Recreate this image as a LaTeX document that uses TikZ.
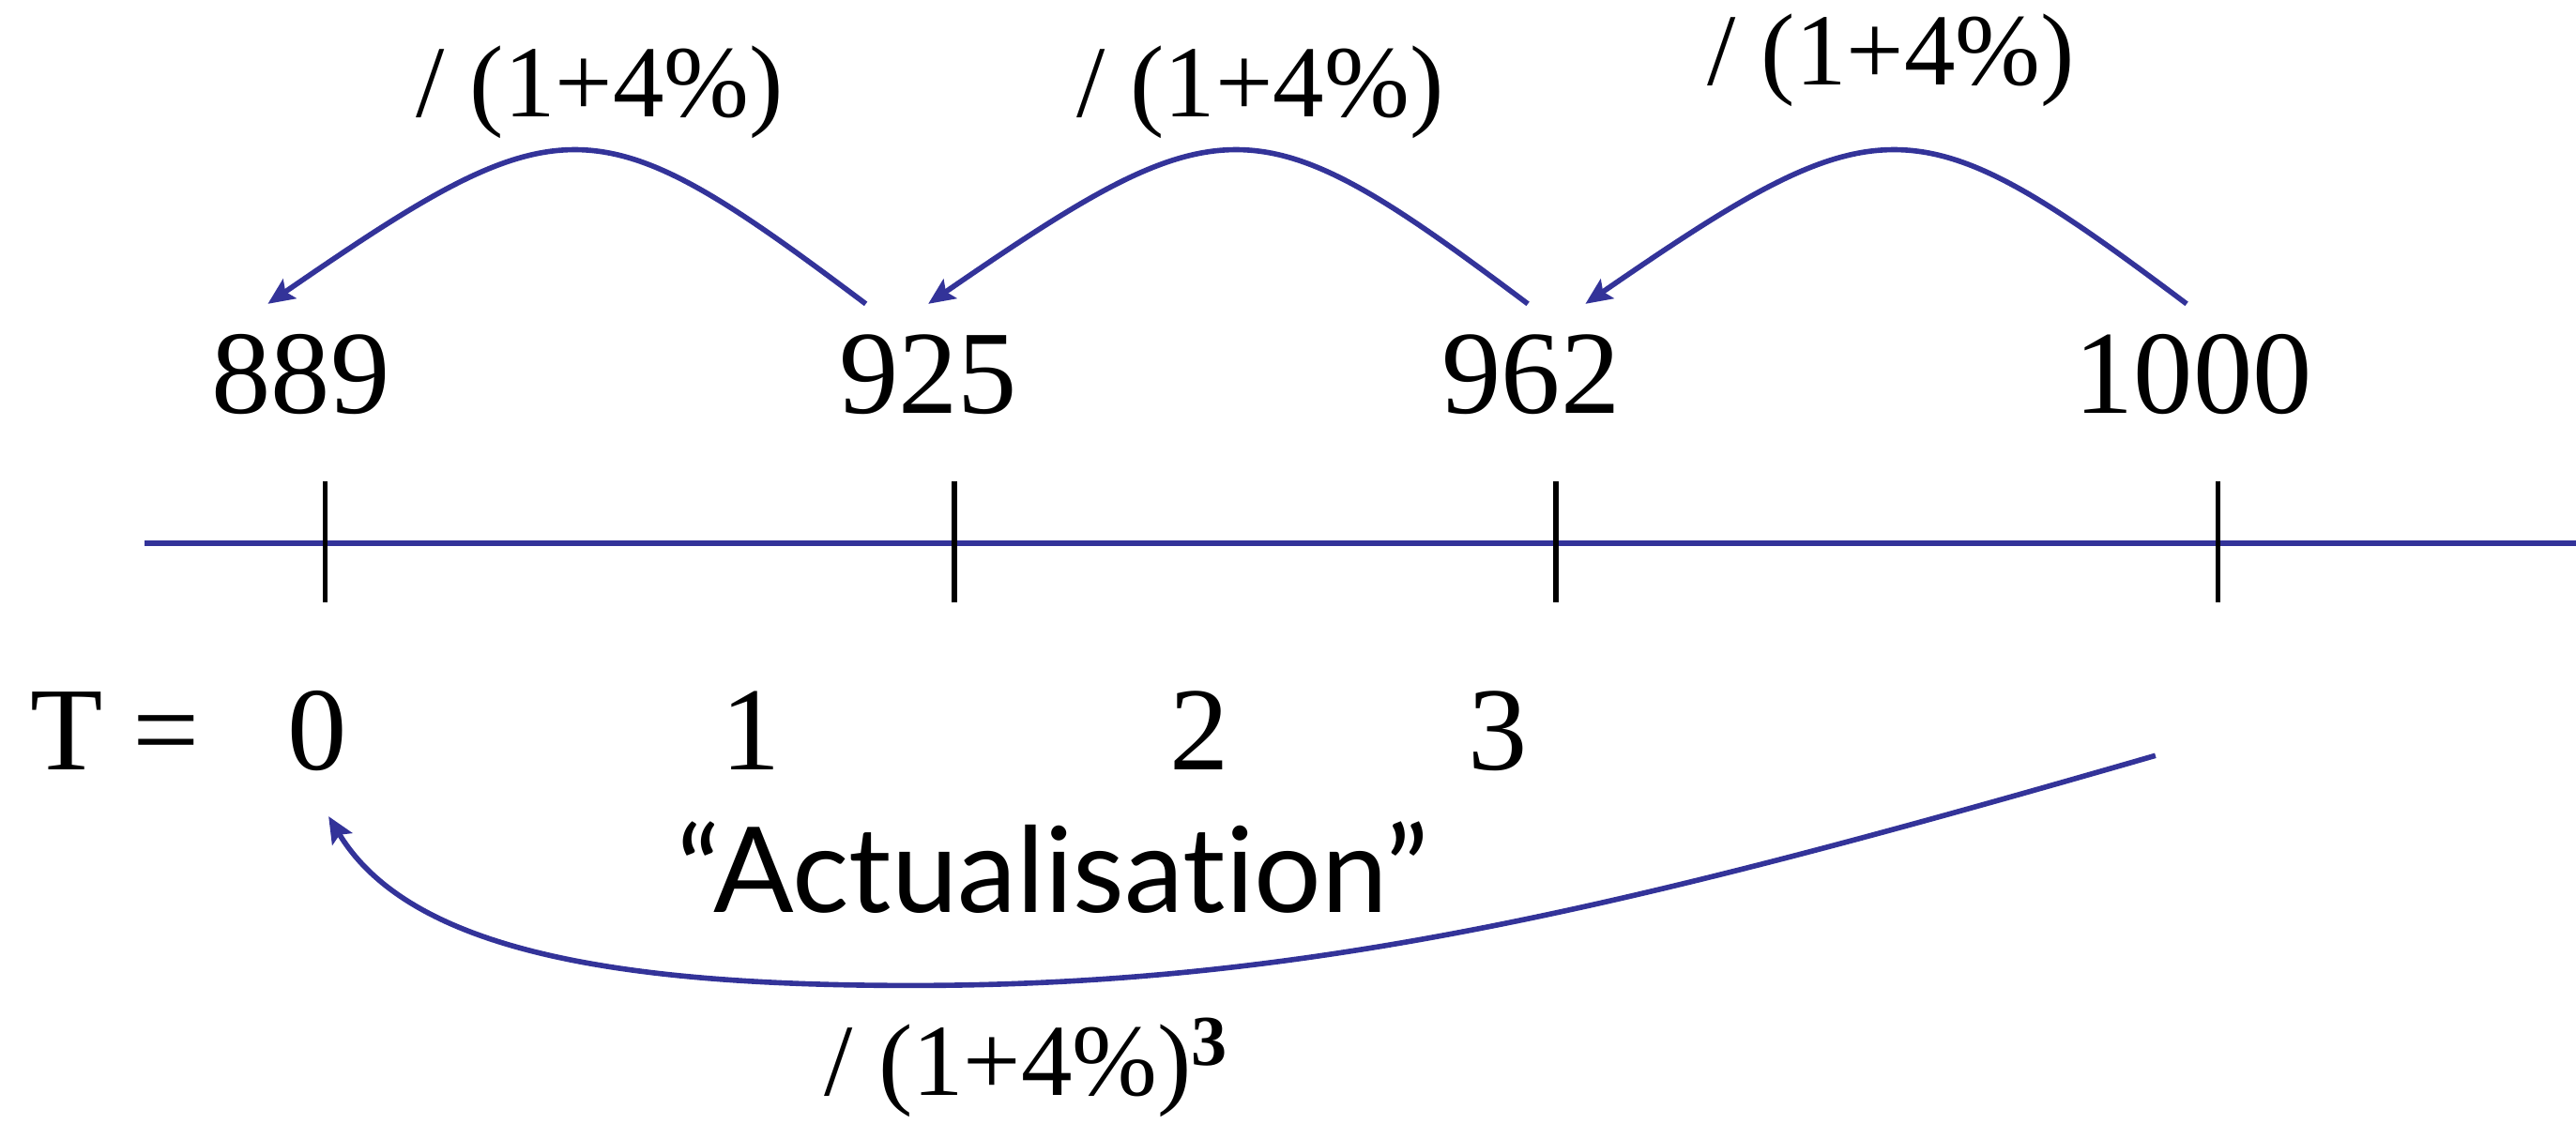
\documentclass[tikz,border=0pt]{standalone}
\usepackage{fontspec}
\setmainfont{Liberation Serif}
\newfontfamily\actfont[Ligatures=NoCommon]{Lato}
\usetikzlibrary{arrows.meta}
\definecolor{lineblue}{RGB}{51,51,153}

\begin{document}
\begin{tikzpicture}[x=0.017506cm, y=-0.017506cm, value/.style={font=\fontsize{36}{40}\selectfont, inner sep=0pt}, factor/.style={font=\fontsize{31}{34}\selectfont, inner sep=0pt}, tickmark/.style={black, line width=1.5pt}, arrow/.style={draw=lineblue, line width=1.6pt, -{Stealth[length=8pt,width=7pt,inset=1.5pt]}}]
\useasboundingbox (0,0) rectangle (1568,684);
\node[value] (v0) at (183,228) {889};
\node[value] (v1) at (565,228) {925};
\node[value] (v2) at (932,228) {962};
\node[value] (v3) at (1335,228) {1000};
\node[factor] (f1) at (365,56) {/ (1+4\%)};
\node[factor] (f2) at (767,56) {/ (1+4\%)};
\node[factor] (f3) at (1151,37) {/ (1+4\%)};
\draw[lineblue, line width=1.7pt] (88,331) -- (1568,331);
\foreach \x in {198,581,947,1350} \draw[tickmark] (\x,293) -- (\x,367);
\node[value] (tlabel) at (70,445) {T =};
\node[value] (t0) at (193,445) {0};
\node[value] (t1) at (457,445) {1};
\node[value] (t2) at (730,445) {2};
\node[value] (t3) at (912,445) {3};
\node[font=\actfont\fontsize{36}{40}\selectfont, inner sep=0pt] (act) at (641,528) {“Actualisation”};
\node[factor] (f0) at (625,650) {/ (1+4\%)\textsuperscript{\textbf{3}}};
\coordinate (fv) at (1312,460);
\draw[arrow] ([shift={(-38,-43)}]v1.center) .. controls +(-165,-124) and +(180,-124) .. ([shift={(-20,-43)}]v0.center);
\draw[arrow] ([shift={(-2,-43)}]v2.center) .. controls +(-165,-124) and +(180,-124) .. ([shift={(0,-43)}]v1.center);
\draw[arrow] ([shift={(-4,-43)}]v3.center) .. controls +(-165,-124) and +(180,-124) .. ([shift={(33,-43)}]v2.center);
\draw[arrow] (fv) .. controls +(-312,90) and +(245,0) .. (555,600) .. controls +(-175,0) and +(50,83) .. ([shift={(7,52)}]t0.center);
\end{tikzpicture}
\end{document}
